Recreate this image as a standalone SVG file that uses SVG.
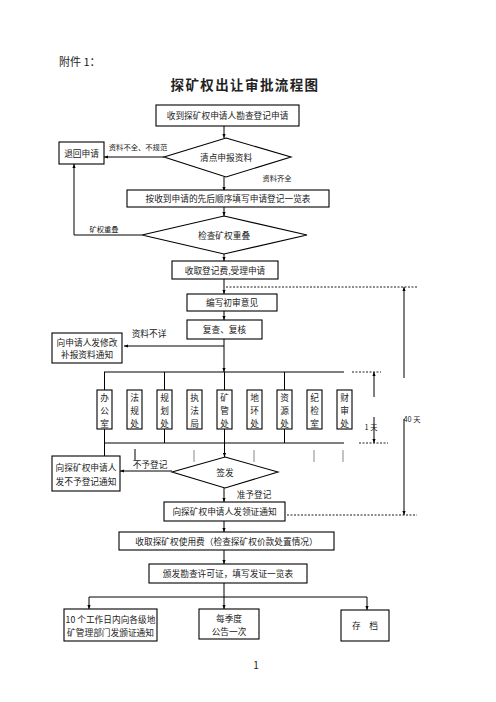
<svg xmlns="http://www.w3.org/2000/svg" width="496" height="702" viewBox="0 0 496 702">
<defs>
<marker id="ah" viewBox="0 0 10 10" refX="10" refY="5" markerWidth="4" markerHeight="4" orient="auto-start-reverse" markerUnits="userSpaceOnUse">
<path d="M0,1 L10,5 L0,9 z" fill="#000"/>
</marker>
<style>
.box{fill:#fff;stroke:#000;stroke-width:1.1}
.ln{fill:none;stroke:#000;stroke-width:1}
.gr{fill:none;stroke:#888;stroke-width:1}
.dot{fill:none;stroke:#000;stroke-width:0.9;stroke-dasharray:2,1.5}
.arr{marker-end:url(#ah)}
text{font-family:"Noto Sans CJK SC","Noto Sans",sans-serif;fill:#222;font-size:8.7px;text-anchor:middle;dominant-baseline:central}
.s{font-size:7.3px}
.l{text-anchor:start}
</style>
</defs>
<rect width="496" height="702" fill="#fff"/>
<text x="59" y="61" class="l" style="font-size:11px">附件 1：</text>
<text x="245" y="84" style="font-size:13.5px;font-weight:bold;letter-spacing:1.4px">探矿权出让审批流程图</text>

<g id="connectors">
<path class="ln arr" d="M224,126 V138"/>
<path class="ln arr" d="M164,157 H104"/>
<path class="ln arr" d="M224,177 V191"/>
<path class="ln arr" d="M224,206 V216"/>
<path class="ln arr" d="M142,235 H74 V164"/>
<path class="ln arr" d="M224,254 V261"/>
<path class="ln arr" d="M224,279 V294"/>
<path class="ln arr" d="M224,311 V320"/>
<path class="ln arr" d="M224,339 V372"/>
<path class="ln arr" d="M224,346 H124"/>
<path class="ln" d="M104,372 H344 M104,443 H344"/>
<path class="ln" d="M104.5,372 V400 M164.5,372 V390 M224.5,372 V390 M284.5,372 V390"/>
<path class="ln" d="M104.5,429 V456 M164.5,429 V443 M224.5,429 V443 M284.5,429 V443"/>
<path class="ln" d="M135,449 V460"/>
<path class="gr" d="M194,450 V462 M254,450 V462 M314,450 V462 M343,450 V462"/>
<path class="ln arr" d="M224.5,443 V457"/>
<path class="ln arr" d="M172,471 H120"/>
<path class="ln arr" d="M224,488 V502"/>
<path class="ln arr" d="M224,521 V532"/>
<path class="ln arr" d="M224,550 V564"/>
<path class="ln" d="M224,583 V597 M89,597 H367"/>
<path class="ln arr" d="M89,597 V609"/>
<path class="ln arr" d="M224,597 V609"/>
<path class="ln arr" d="M367,597 V610"/>
<path class="dot" d="M226,287 H417 M352,372 H381 M359,443 H388 M287,515 H417"/>
<path class="ln arr" d="M374,397 V372"/>
<path class="ln arr" d="M374,417 V443"/>
<path class="ln arr" d="M404,378 V287"/>
<path class="ln arr" d="M404,419 V515"/>
</g>

<text x="138" y="147" class="s">资料不全、不规范</text>
<text x="277" y="178" class="s">资料齐全</text>
<text x="104" y="229" class="s">矿权重叠</text>
<text x="149" y="333">资料不详</text>
<text x="150" y="464">不予登记</text>
<text x="254" y="494">准予登记</text>
<text x="371" y="427" class="s">1 天</text>
<text x="412" y="419" class="s">40 天</text>

<g id="n1"><rect class="box" x="156" y="105" width="143" height="21"/><text x="227.5" y="115.5">收到探矿权申请人勘查登记申请</text></g>
<g id="n2"><rect class="box" x="59" y="142" width="45" height="22"/><text x="81.5" y="153">退回申请</text></g>
<g id="n3"><polygon class="box" points="226,138 291,157 226,177 164,157"/><text x="226" y="157">清点申报资料</text></g>
<g id="n4"><rect class="box" x="127" y="190" width="202" height="17"/><text x="228" y="198.5">按收到申请的先后顺序填写申请登记一览表</text></g>
<g id="n5"><polygon class="box" points="224,216 307,235 224,254 142,235"/><text x="224" y="235">检查矿权重叠</text></g>
<g id="n6"><rect class="box" x="172" y="261" width="106" height="18"/><text x="225" y="270">收取登记费,受理申请</text></g>
<g id="n7"><rect class="box" x="187" y="294" width="90" height="17"/><text x="232" y="302.5">编写初审意见</text></g>
<g id="n8"><rect class="box" x="187" y="320" width="75" height="19"/><text x="224.5" y="329.5">复查、复核</text></g>
<g id="n9"><rect class="box" x="52" y="333" width="70" height="30"/><text x="87" y="342">向申请人发修改</text><text x="87" y="354">补报资料通知</text></g>

<g id="d1"><rect class="box" x="97" y="390" width="15" height="39"/><text x="104.5" y="397">办</text><text x="104.5" y="410">公</text><text x="104.5" y="423">室</text></g>
<g id="d2"><rect class="box" x="127" y="390" width="15" height="39"/><text x="134.5" y="397">法</text><text x="134.5" y="410">规</text><text x="134.5" y="423">处</text></g>
<g id="d3"><rect class="box" x="157" y="390" width="15" height="39"/><text x="164.5" y="397">规</text><text x="164.5" y="410">划</text><text x="164.5" y="423">处</text></g>
<g id="d4"><rect class="box" x="187" y="390" width="15" height="39"/><text x="194.5" y="397">执</text><text x="194.5" y="410">法</text><text x="194.5" y="423">局</text></g>
<g id="d5"><rect class="box" x="217" y="390" width="15" height="39"/><text x="224.5" y="397">矿</text><text x="224.5" y="410">管</text><text x="224.5" y="423">处</text></g>
<g id="d6"><rect class="box" x="247" y="390" width="15" height="39"/><text x="254.5" y="397">地</text><text x="254.5" y="410">环</text><text x="254.5" y="423">处</text></g>
<g id="d7"><rect class="box" x="277" y="390" width="15" height="39"/><text x="284.5" y="397">资</text><text x="284.5" y="410">源</text><text x="284.5" y="423">处</text></g>
<g id="d8"><rect class="box" x="307" y="390" width="15" height="39"/><text x="314.5" y="397">纪</text><text x="314.5" y="410">检</text><text x="314.5" y="423">室</text></g>
<g id="d9"><rect class="box" x="337" y="390" width="15" height="39"/><text x="344.5" y="397">财</text><text x="344.5" y="410">审</text><text x="344.5" y="423">处</text></g>

<g id="n10"><rect class="box" x="52" y="456" width="68" height="35"/><text x="86" y="467">向探矿权申请人</text><text x="86" y="481">发不予登记通知</text></g>
<g id="n11"><polygon class="box" points="225,457 278,472 225,488 172,472"/><text x="225" y="472">签发</text></g>
<g id="n12"><rect class="box" x="164" y="502" width="121" height="19"/><text x="224.5" y="511.5">向探矿权申请人发领证通知</text></g>
<g id="n13"><rect class="box" x="119" y="532" width="215" height="18"/><text x="226.5" y="541">收取探矿权使用费（检查探矿权价款处置情况）</text></g>
<g id="n14"><rect class="box" x="149" y="564" width="158" height="19"/><text x="228" y="573.5">颁发勘查许可证，填写发证一览表</text></g>
<g id="n15"><rect class="box" x="64" y="609" width="93" height="32"/><text x="110.5" y="619">10 个工作日内向各级地</text><text x="110.5" y="632">矿管理部门发颁证通知</text></g>
<g id="n16"><rect class="box" x="199" y="609" width="60" height="30"/><text x="229" y="618">每季度</text><text x="229" y="631">公告一次</text></g>
<g id="n17"><rect class="box" x="341" y="610" width="48" height="31"/><text x="365" y="625.5">存　档</text></g>
<text x="256" y="664" style="font-size:10px">1</text>
</svg>
